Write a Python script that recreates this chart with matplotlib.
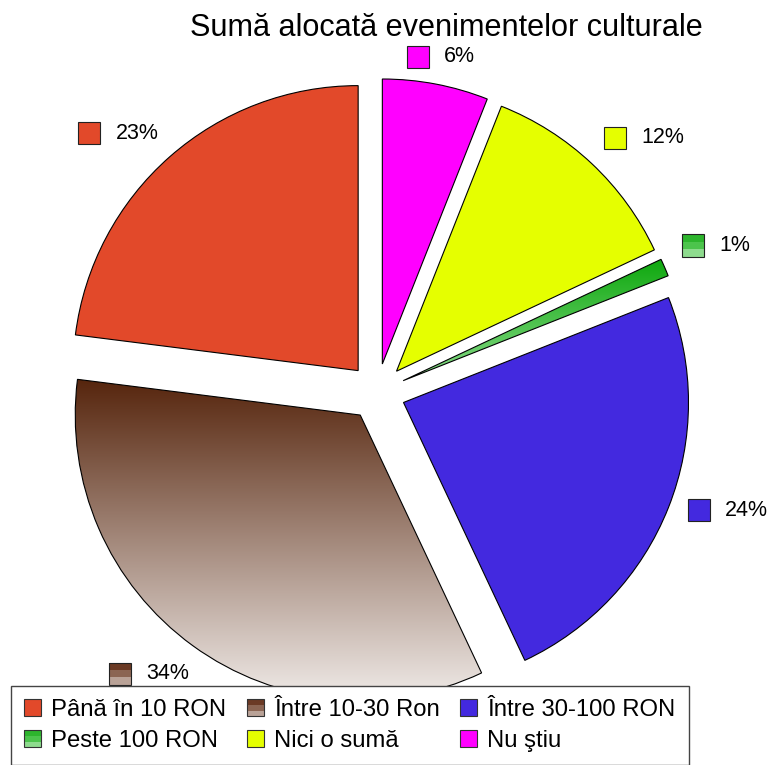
import numpy as np
import matplotlib
matplotlib.use('Agg')
import matplotlib.pyplot as plt
from matplotlib.colors import LinearSegmentedColormap
from matplotlib.patches import Rectangle
from matplotlib.legend_handler import HandlerBase
from matplotlib.offsetbox import AnnotationBbox, HPacker, DrawingArea, TextArea

plt.rcParams['font.family'] = ['Liberation Sans', 'DejaVu Sans']

title = 'Sumă alocată evenimentelor culturale'
categories = ['Până în 10 RON', 'Între 10-30 Ron', 'Între 30-100 RON',
              'Peste 100 RON', 'Nici o sumă', 'Nu ştiu']
shares = [23, 34, 24, 1, 12, 6]
colors = ['#E2492A', '#8A6452', '#4329DF', '#18B018', '#E5FF00', '#FF00FF']

# slices drawn with a vertical gradient (top colour, bottom colour) and banded markers
gradients = {1: ('#56250D', '#F0EBE8'), 3: ('#0EA80E', '#8ADB8A')}
bands = {1: ['#6B3A25', '#8B6553', '#B9A297'], 3: ['#2DB52D', '#4CC44C', '#8EDB8E']}

# layout (pixels)
W, H = 770, 765
cx, cy, R = 377, 392, 285
label_r = [1.284, 1.272, 1.299, 1.295, 1.293, 1.197]
label_nudge = [3.6, -3.0, 3.0, 0.0, -3.2, 0.0]

fig = plt.figure(figsize=(W / 100, H / 100), dpi=100)
ax = fig.add_axes([0, 0, 1, 1])

wedges, _ = ax.pie(shares, startangle=90, counterclock=True, explode=[0.1] * len(shares),
                   colors=colors, radius=1,
                   wedgeprops=dict(edgecolor='black', linewidth=0.8))

for i, (top, bottom) in gradients.items():
    w = wedges[i]
    ext = w.get_path().get_extents()
    cmap = LinearSegmentedColormap.from_list('g%d' % i, [top, bottom])
    im = ax.imshow(np.linspace(0, 1, 256).reshape(-1, 1), cmap=cmap, aspect='auto',
                   extent=(ext.x0, ext.x1, ext.y0, ext.y1), origin='upper', zorder=1.5)
    im.set_clip_path(w)
    w.set_facecolor('none')
    w.set_zorder(2)

ax.set_xlim(-cx / R, (W - cx) / R)
ax.set_ylim(-(H - cy) / R, cy / R)
ax.set_aspect('auto')
ax.axis('off')


def marker_box(i, size):
    da = DrawingArea(size, size, 0, 0)
    if i in bands:
        n = len(bands[i])
        for k, c in enumerate(bands[i]):
            da.add_artist(Rectangle((0, size * (n - 1 - k) / n), size, size / n,
                                    facecolor=c, edgecolor='none'))
        da.add_artist(Rectangle((0, 0), size, size, facecolor='none',
                                edgecolor='#222222', linewidth=0.8))
    else:
        da.add_artist(Rectangle((0, 0), size, size, facecolor=colors[i],
                                edgecolor='#222222', linewidth=0.8))
    return da


for i, w in enumerate(wedges):
    mid = np.deg2rad((w.theta1 + w.theta2) / 2 + label_nudge[i])
    x, y = label_r[i] * np.cos(mid), label_r[i] * np.sin(mid)
    txt = TextArea('%d%%' % shares[i], textprops=dict(fontsize=15.5, color='black'))
    pack = HPacker(children=[marker_box(i, 16), txt], sep=11, pad=0, align='center')
    ab = AnnotationBbox(pack, (x, y), xycoords='data', frameon=False, box_alignment=(0.5, 0.5))
    ax.add_artist(ab)

fig.text(446 / W, 1 - 28 / H, title, ha='center', va='center', fontsize=22.1)


class BandHandler(HandlerBase):
    def __init__(self, cols):
        super().__init__()
        self.cols = cols

    def create_artists(self, legend, orig_handle, xdescent, ydescent, width, height, fontsize, trans):
        arts = []
        n = len(self.cols)
        for k, c in enumerate(self.cols):
            arts.append(Rectangle((-xdescent, -ydescent + height * (n - 1 - k) / n), width, height / n,
                                  facecolor=c, edgecolor='none', transform=trans))
        arts.append(Rectangle((-xdescent, -ydescent), width, height, facecolor='none',
                              edgecolor='#333333', linewidth=0.8, transform=trans))
        return arts


handles, hmap = [], {}
for i, c in enumerate(colors):
    h = Rectangle((0, 0), 1, 1, facecolor=c, edgecolor='#333333', linewidth=0.8)
    handles.append(h)
    if i in bands:
        hmap[h] = BandHandler(bands[i])

order = [0, 3, 1, 4, 2, 5]
leg = fig.legend([handles[k] for k in order], [categories[k] for k in order],
                 handler_map=hmap, loc='upper left', bbox_to_anchor=(11 / W, 1 - 686 / H),
                 borderaxespad=0, ncol=3, fontsize=17.2, frameon=True, fancybox=False,
                 edgecolor='#444444', framealpha=1, handlelength=0.72, handleheight=0.72,
                 handletextpad=0.42, columnspacing=0.85, borderpad=0.55, labelspacing=0.38)
leg.get_frame().set_linewidth(1.0)

fig.savefig('out.png', dpi=100)
